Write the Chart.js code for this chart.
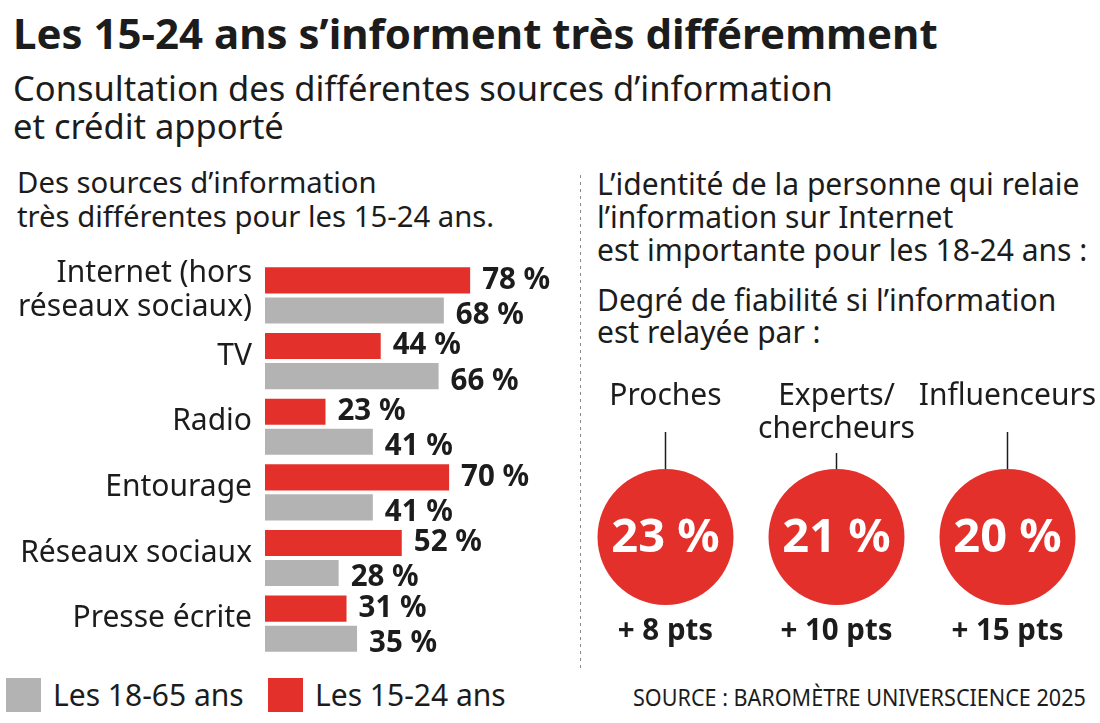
<!DOCTYPE html>
<html lang="fr">
<head>
<meta charset="UTF-8">
<title>Les 15-24 ans s'informent très différemment</title>
<script src="https://cdn.jsdelivr.net/npm/chart.js"></script>
<style>
  body { margin: 0; background: #fff; font-family: "Noto Sans", sans-serif; color: #1c1c1c; }
  .page { position: relative; width: 1100px; height: 723px; overflow: hidden; }
  .txt { position: absolute; white-space: nowrap; line-height: 1.2; }
  .title { left: 13px; top: 8px; font-size: 42px; font-weight: 700; }
  .sub { left: 13px; top: 69px; font-size: 34.5px; line-height: 38px; }
  .lefthead { left: 17px; top: 165px; font-size: 29.3px; line-height: 34px; }
  .righthead { left: 597px; top: 167px; font-size: 30px; line-height: 33px; }
  .righthead2 { left: 597px; top: 284px; font-size: 30px; line-height: 32px; }
  .sep { position: absolute; left: 580px; top: 175px; width: 1px; height: 493px;
         background: repeating-linear-gradient(to bottom, #8a8a8a 0 3px, transparent 3px 7px); }
  .chartbox { position: absolute; }
  #barBox { left: 0; top: 250px; width: 575px; height: 420px; }
  #dotBox { left: 580px; top: 360px; width: 520px; height: 320px; }
  .sq { position: absolute; top: 678px; width: 35px; height: 34px; }
  .leg { top: 677px; font-size: 30px; line-height: 36px; }
  .source { left: 633px; top: 683px; font-size: 24px; transform-origin: left center; }
</style>
</head>
<body>
<div class="page">
  <div class="txt title">Les 15-24 ans s’informent très différemment</div>
  <div class="txt sub">Consultation des différentes sources d’information<br>et crédit apporté</div>
  <div class="txt lefthead">Des sources d’information<br>très différentes pour les 15-24 ans.</div>
  <div class="txt righthead">L’identité de la personne qui relaie<br>l’information sur Internet<br>est importante pour les 18-24 ans :</div>
  <div class="txt righthead2">Degré de fiabilité si l’information<br>est relayée par :</div>
  <div class="sep"></div>

  <div class="chartbox" id="barBox"><canvas id="barChart"></canvas></div>
  <div class="chartbox" id="dotBox"><canvas id="dotChart"></canvas></div>

  <div class="sq" style="left:6px;background:#b3b3b3"></div>
  <div class="txt leg" style="left:53px">Les 18-65 ans</div>
  <div class="sq" style="left:268px;background:#e3302b"></div>
  <div class="txt leg" style="left:315px">Les 15-24 ans</div>
  <div class="txt source" id="source">SOURCE : BAROMÈTRE UNIVERSCIENCE 2025</div>
</div>

<script>
// sources d'information
const sources = [['Internet (hors', 'réseaux sociaux)'], 'TV', 'Radio', 'Entourage', 'Réseaux sociaux', 'Presse écrite'];
const jeunes = [78, 44, 23, 70, 52, 31];   // 15-24 ans
const adultes = [68, 66, 41, 41, 28, 35];  // 18-65 ans

// fiabilité selon la personne qui relaie
const relais = [['Proches'], ['Experts/', 'chercheurs'], ['Influenceurs']];
const fiabilite = [23, 21, 20];
const ecart = [8, 10, 15];

const RED = '#e3302b';
const GREY = '#b3b3b3';
const INK = '#1c1c1c';
const FONT = '"Noto Sans", sans-serif';

// étiquettes de valeur au bout des barres
const barLabels = {
    id: 'barLabels',
    afterDatasetsDraw(chart) {
        const ctx = chart.ctx;
        ctx.save();
        ctx.font = 'bold 29.5px ' + FONT;
        ctx.fillStyle = INK;
        ctx.textBaseline = 'middle';
        chart.data.datasets.forEach((ds, di) => {
            chart.getDatasetMeta(di).data.forEach((bar, i) => {
                ctx.fillText(ds.data[i] + ' %', bar.x + 12, bar.y + (di === 1 ? 5 : 0));
            });
        });
        ctx.restore();
    }
};

new Chart(document.getElementById('barChart'), {
    type: 'bar',
    data: {
        labels: sources,
        datasets: [
            { label: 'Les 15-24 ans', data: jeunes, backgroundColor: RED },
            { label: 'Les 18-65 ans', data: adultes, backgroundColor: GREY }
        ]
    },
    options: {
        indexAxis: 'y',
        responsive: true,
        maintainAspectRatio: false,
        animation: false,
        categoryPercentage: 0.916,
        barPercentage: 0.867,
        layout: { autoPadding: false, padding: { left: 0, right: 47, top: 12.6, bottom: 13.5 } },
        plugins: { legend: { display: false }, tooltip: { enabled: false } },
        scales: {
            x: { display: false, min: 0, max: 100 },
            y: {
                grid: { display: false, drawTicks: false },
                border: { display: false },
                afterFit: (scale) => {
                    scale.width = 265;
                    scale.paddingTop = 0;
                    scale.paddingBottom = 0;
                },
                ticks: {
                    autoSkip: false,
                    padding: 13,
                    labelOffset: -5,
                    color: INK,
                    font: { family: FONT, size: 30, lineHeight: 1.15 }
                }
            }
        }
    },
    plugins: [barLabels]
});

// textes autour des cercles
const dotLabels = {
    id: 'dotLabels',
    afterDatasetsDraw(chart) {
        const ctx = chart.ctx;
        const r = chart.data.datasets[0].pointRadius;
        ctx.save();
        chart.getDatasetMeta(0).data.forEach((pt, i) => {
            const lines = relais[i];
            ctx.textAlign = 'center';
            ctx.textBaseline = 'alphabetic';
            ctx.fillStyle = INK;
            ctx.font = '30px ' + FONT;
            lines.forEach((l, k) => ctx.fillText(l, pt.x, pt.y - 132 + k * 33));
            const last = pt.y - 132 + (lines.length - 1) * 33;
            ctx.strokeStyle = INK;
            ctx.lineWidth = 1.5;
            ctx.beginPath();
            ctx.moveTo(pt.x, last + (lines.length > 1 ? 15 : 27));
            ctx.lineTo(pt.x, pt.y - r);
            ctx.stroke();
            ctx.fillStyle = '#fff';
            ctx.font = 'bold 47px ' + FONT;
            ctx.textBaseline = 'middle';
            ctx.fillText(fiabilite[i] + ' %', pt.x, pt.y + 2);
            ctx.fillStyle = INK;
            ctx.font = 'bold 29.5px ' + FONT;
            ctx.textBaseline = 'alphabetic';
            ctx.fillText('+ ' + ecart[i] + ' pts', pt.x, pt.y + 103);
        });
        ctx.restore();
    }
};

new Chart(document.getElementById('dotChart'), {
    type: 'line',
    data: {
        labels: relais.map(l => l.join(' ')),
        datasets: [{
            data: fiabilite.map((v, i) => ({ x: relais[i].join(' '), y: 0, v: v })),
            showLine: false,
            pointRadius: 68,
            pointHoverRadius: 68,
            pointBackgroundColor: RED,
            pointBorderWidth: 0,
            clip: false
        }]
    },
    options: {
        responsive: true,
        maintainAspectRatio: false,
        animation: false,
        layout: { autoPadding: false, padding: { left: 0, right: 7, top: 34, bottom: 0 } },
        plugins: { legend: { display: false }, tooltip: { enabled: false } },
        scales: {
            x: { display: false, offset: true },
            y: { display: false, min: -1, max: 1 }
        }
    },
    plugins: [dotLabels]
});

// la source est en caractères étroits
const src = document.getElementById('source');
src.style.transform = 'scaleX(' + (453 / src.offsetWidth).toFixed(3) + ')';
</script>
</body>
</html>
